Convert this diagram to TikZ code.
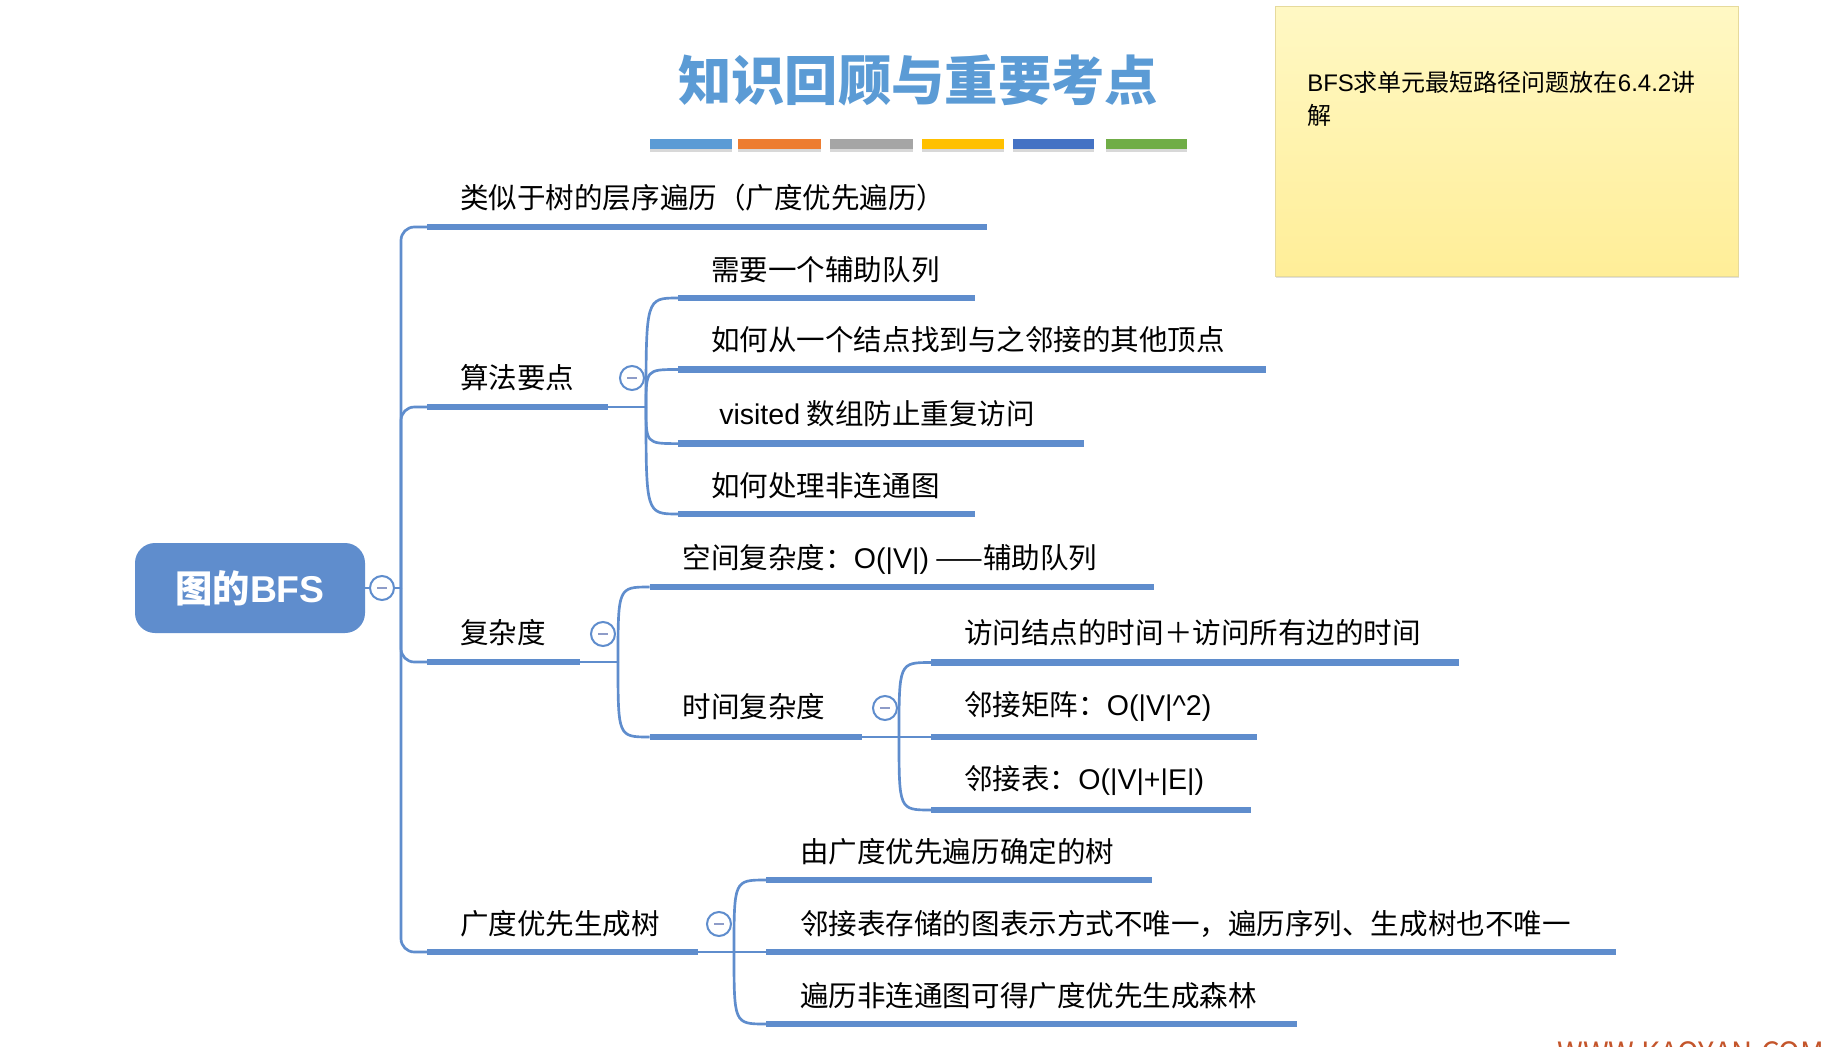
\documentclass[tikz,border=0pt]{standalone}
\usepackage{fontspec}
\setmainfont{Noto Sans CJK SC}
\newfontfamily\lat{Liberation Sans}
\usetikzlibrary{shadows}
\definecolor{mblue}{HTML}{5F8DCD}
\definecolor{tblue}{HTML}{5B9BD5}
\definecolor{minusc}{HTML}{8E9CC8}
\definecolor{barA}{HTML}{5B9BD5}
\definecolor{barB}{HTML}{ED7D31}
\definecolor{barC}{HTML}{A5A5A5}
\definecolor{barD}{HTML}{FFC000}
\definecolor{barE}{HTML}{4472C4}
\definecolor{barF}{HTML}{70AD47}
\definecolor{noteTop}{HTML}{FFF8C4}
\definecolor{noteBot}{HTML}{FFEE98}
\definecolor{noteEdge}{HTML}{E6DA9C}
\definecolor{wmark}{HTML}{C4552B}
\tikzset{
  conn/.style={draw=mblue, line width=2pt},
  uline/.style={draw=mblue, line width=5pt},
  lbl/.style={anchor=west, inner sep=0pt, text=black, font=\fontsize{21.4}{25}\selectfont},
  fold/.style={circle, draw=mblue, line width=1.5pt, fill=white, minimum size=18pt, inner sep=0pt},
  barshadow/.style={drop shadow={shadow xshift=0pt, shadow yshift=-2pt, opacity=0.3}},
  rootbox/.style={rounded corners=15pt, fill=mblue, minimum width=172.5pt, minimum height=67.5pt,
     text=white, inner sep=0pt, font=\bfseries\fontsize{28}{30}\selectfont},
  sticky/.style={draw=noteEdge, line width=0.75pt, top color=noteTop, bottom color=noteBot,
     minimum width=347.25pt, minimum height=202.5pt, inner sep=0pt,
     drop shadow={opacity=0.25, shadow xshift=1pt, shadow yshift=-1.5pt}},
  notetxt/.style={anchor=base west, inner sep=0pt, text=black, font=\fontsize{18}{20}\selectfont},
}
\newcommand{\mns}{{\color{minusc}\rule{7.5pt}{1.8pt}}}
\begin{document}
\begin{tikzpicture}[x=0.75pt,y=-0.75pt]
\useasboundingbox (0,0) rectangle (1845,1046);
\clip (0,0) rectangle (1845,1046);
\fill[white] (0,0) rectangle (1845,1046);

% ---------- title and colour bars
\node[font=\bfseries\fontsize{40}{44}\selectfont, text=tblue, inner sep=0pt] (title) at (918,80) {知识回顾与重要考点};
\fill[barA, barshadow] (650,139) rectangle (732,149);
\fill[barB, barshadow] (738,139) rectangle (821,149);
\fill[barC, barshadow] (830,139) rectangle (913,149);
\fill[barD, barshadow] (922,139) rectangle (1004,149);
\fill[barE, barshadow] (1013,139) rectangle (1094,149);
\fill[barF, barshadow] (1106,139) rectangle (1187,149);

% ---------- sticky note
\node[sticky] (note) at (1506.5,141) {};
\node[notetxt] (note1) at (1307,91) {{\lat BFS}求单元最短路径问题放在{\lat 6.4.2}讲};
\node[notetxt] (note2) at (1307,124) {解};

% ---------- root
\node[rootbox] (root) at (250,588) {图的{\lat BFS}};
\node[fold] (f0) at (382,588) {\mns};
\coordinate (t0) at (401,588);
\draw[conn] (root.east) -- (f0.west);
\draw[conn] (f0.east) -- (t0);

% ---------- level 1
\coordinate (a1) at (427,227); \coordinate (b1) at (987,227);
\coordinate (a2) at (427,407); \coordinate (b2) at (608,407);
\coordinate (a3) at (427,662); \coordinate (b3) at (580,662);
\coordinate (a4) at (427,952); \coordinate (b4) at (698,952);
\foreach \k in {1,2,3,4} {
  \draw[conn, rounded corners=10pt] (t0) |- (a\k);
  \draw[uline] (a\k) -- (b\k);
}
\node[lbl] (n1) at (460,198) {类似于树的层序遍历（广度优先遍历）};
\node[lbl] (n2) at (460,378) {算法要点};
\node[lbl] (n3) at (460,633) {复杂度};
\node[lbl] (n4) at (460,924) {广度优先生成树};

\node[fold] (f2) at (632,378) {\mns};
\node[fold] (f3) at (603,634) {\mns};
\node[fold] (f4) at (719,924) {\mns};
\coordinate (j2) at (646,407);
\coordinate (j3) at (618,662);
\coordinate (j4) at (734,952);
\draw[conn] (b2) -- (j2);
\draw[conn] (b3) -- (j3);
\draw[conn] (b4) -- (j4);

% ---------- 算法要点 children
\coordinate (a21) at (678,298);   \coordinate (b21) at (975,298);
\coordinate (a22) at (678,369.5); \coordinate (b22) at (1266,369.5);
\coordinate (a23) at (678,443.6); \coordinate (b23) at (1084,443.6);
\coordinate (a24) at (678,514);   \coordinate (b24) at (975,514);
\foreach \k in {21,22,23,24} {
  \draw[conn] (j2) .. controls (j2 |- a\k) .. (a\k);
  \draw[uline] (a\k) -- (b\k);
}
\node[lbl] (n21) at (711,269.5) {需要一个辅助队列};
\node[lbl] (n22) at (711,340) {如何从一个结点找到与之邻接的其他顶点};
\node[lbl] (n23) at (719,414) {{\lat visited} 数组防止重复访问};
\node[lbl] (n24) at (711,486) {如何处理非连通图};

% ---------- 复杂度 children
\coordinate (a31) at (649.5,587); \coordinate (b31) at (1154,587);
\coordinate (a32) at (649.5,737); \coordinate (b32) at (862,737);
\foreach \k in {31,32} {
  \draw[conn] (j3) .. controls (j3 |- a\k) .. (a\k);
  \draw[uline] (a\k) -- (b\k);
}
\node[lbl] (n31) at (682.5,559) {空间复杂度：{\lat O(|V|)} ——辅助队列};
\node[lbl] (n32) at (682.5,707) {时间复杂度};
\node[fold] (f32) at (885,708) {\mns};
\coordinate (j32) at (899,737);
\draw[conn] (b32) -- (j32);

\coordinate (a321) at (931,662.5); \coordinate (b321) at (1459,662.5);
\coordinate (a322) at (931,737);   \coordinate (b322) at (1257,737);
\coordinate (a323) at (931,810);   \coordinate (b323) at (1251,810);
\foreach \k in {321,322,323} {
  \draw[conn] (j32) .. controls (j32 |- a\k) .. (a\k);
  \draw[uline] (a\k) -- (b\k);
}
\node[lbl] (n321) at (964,633) {访问结点的时间＋访问所有边的时间};
\node[lbl] (n322) at (964,707) {邻接矩阵：{\lat O(|V|\^{}2)}};
\node[lbl] (n323) at (964,781) {邻接表：{\lat O(|V|+|E|)}};

% ---------- 广度优先生成树 children
\coordinate (a41) at (766,880);  \coordinate (b41) at (1152,880);
\coordinate (a42) at (766,952);  \coordinate (b42) at (1616,952);
\coordinate (a43) at (766,1024); \coordinate (b43) at (1297,1024);
\foreach \k in {41,42,43} {
  \draw[conn] (j4) .. controls (j4 |- a\k) .. (a\k);
  \draw[uline] (a\k) -- (b\k);
}
\node[lbl] (n41) at (800,852) {由广度优先遍历确定的树};
\node[lbl] (n42) at (800,924) {邻接表存储的图表示方式不唯一，遍历序列、生成树也不唯一};
\node[lbl] (n43) at (800,995.5) {遍历非连通图可得广度优先生成森林};

% ---------- watermark (cut by the lower edge)
\node[anchor=base west, inner sep=0pt, text=wmark, font=\fontsize{22}{24}\selectfont] (wm) at (1557,1063) {WWW.KAOYAN.COM};
\end{tikzpicture}
\end{document}
